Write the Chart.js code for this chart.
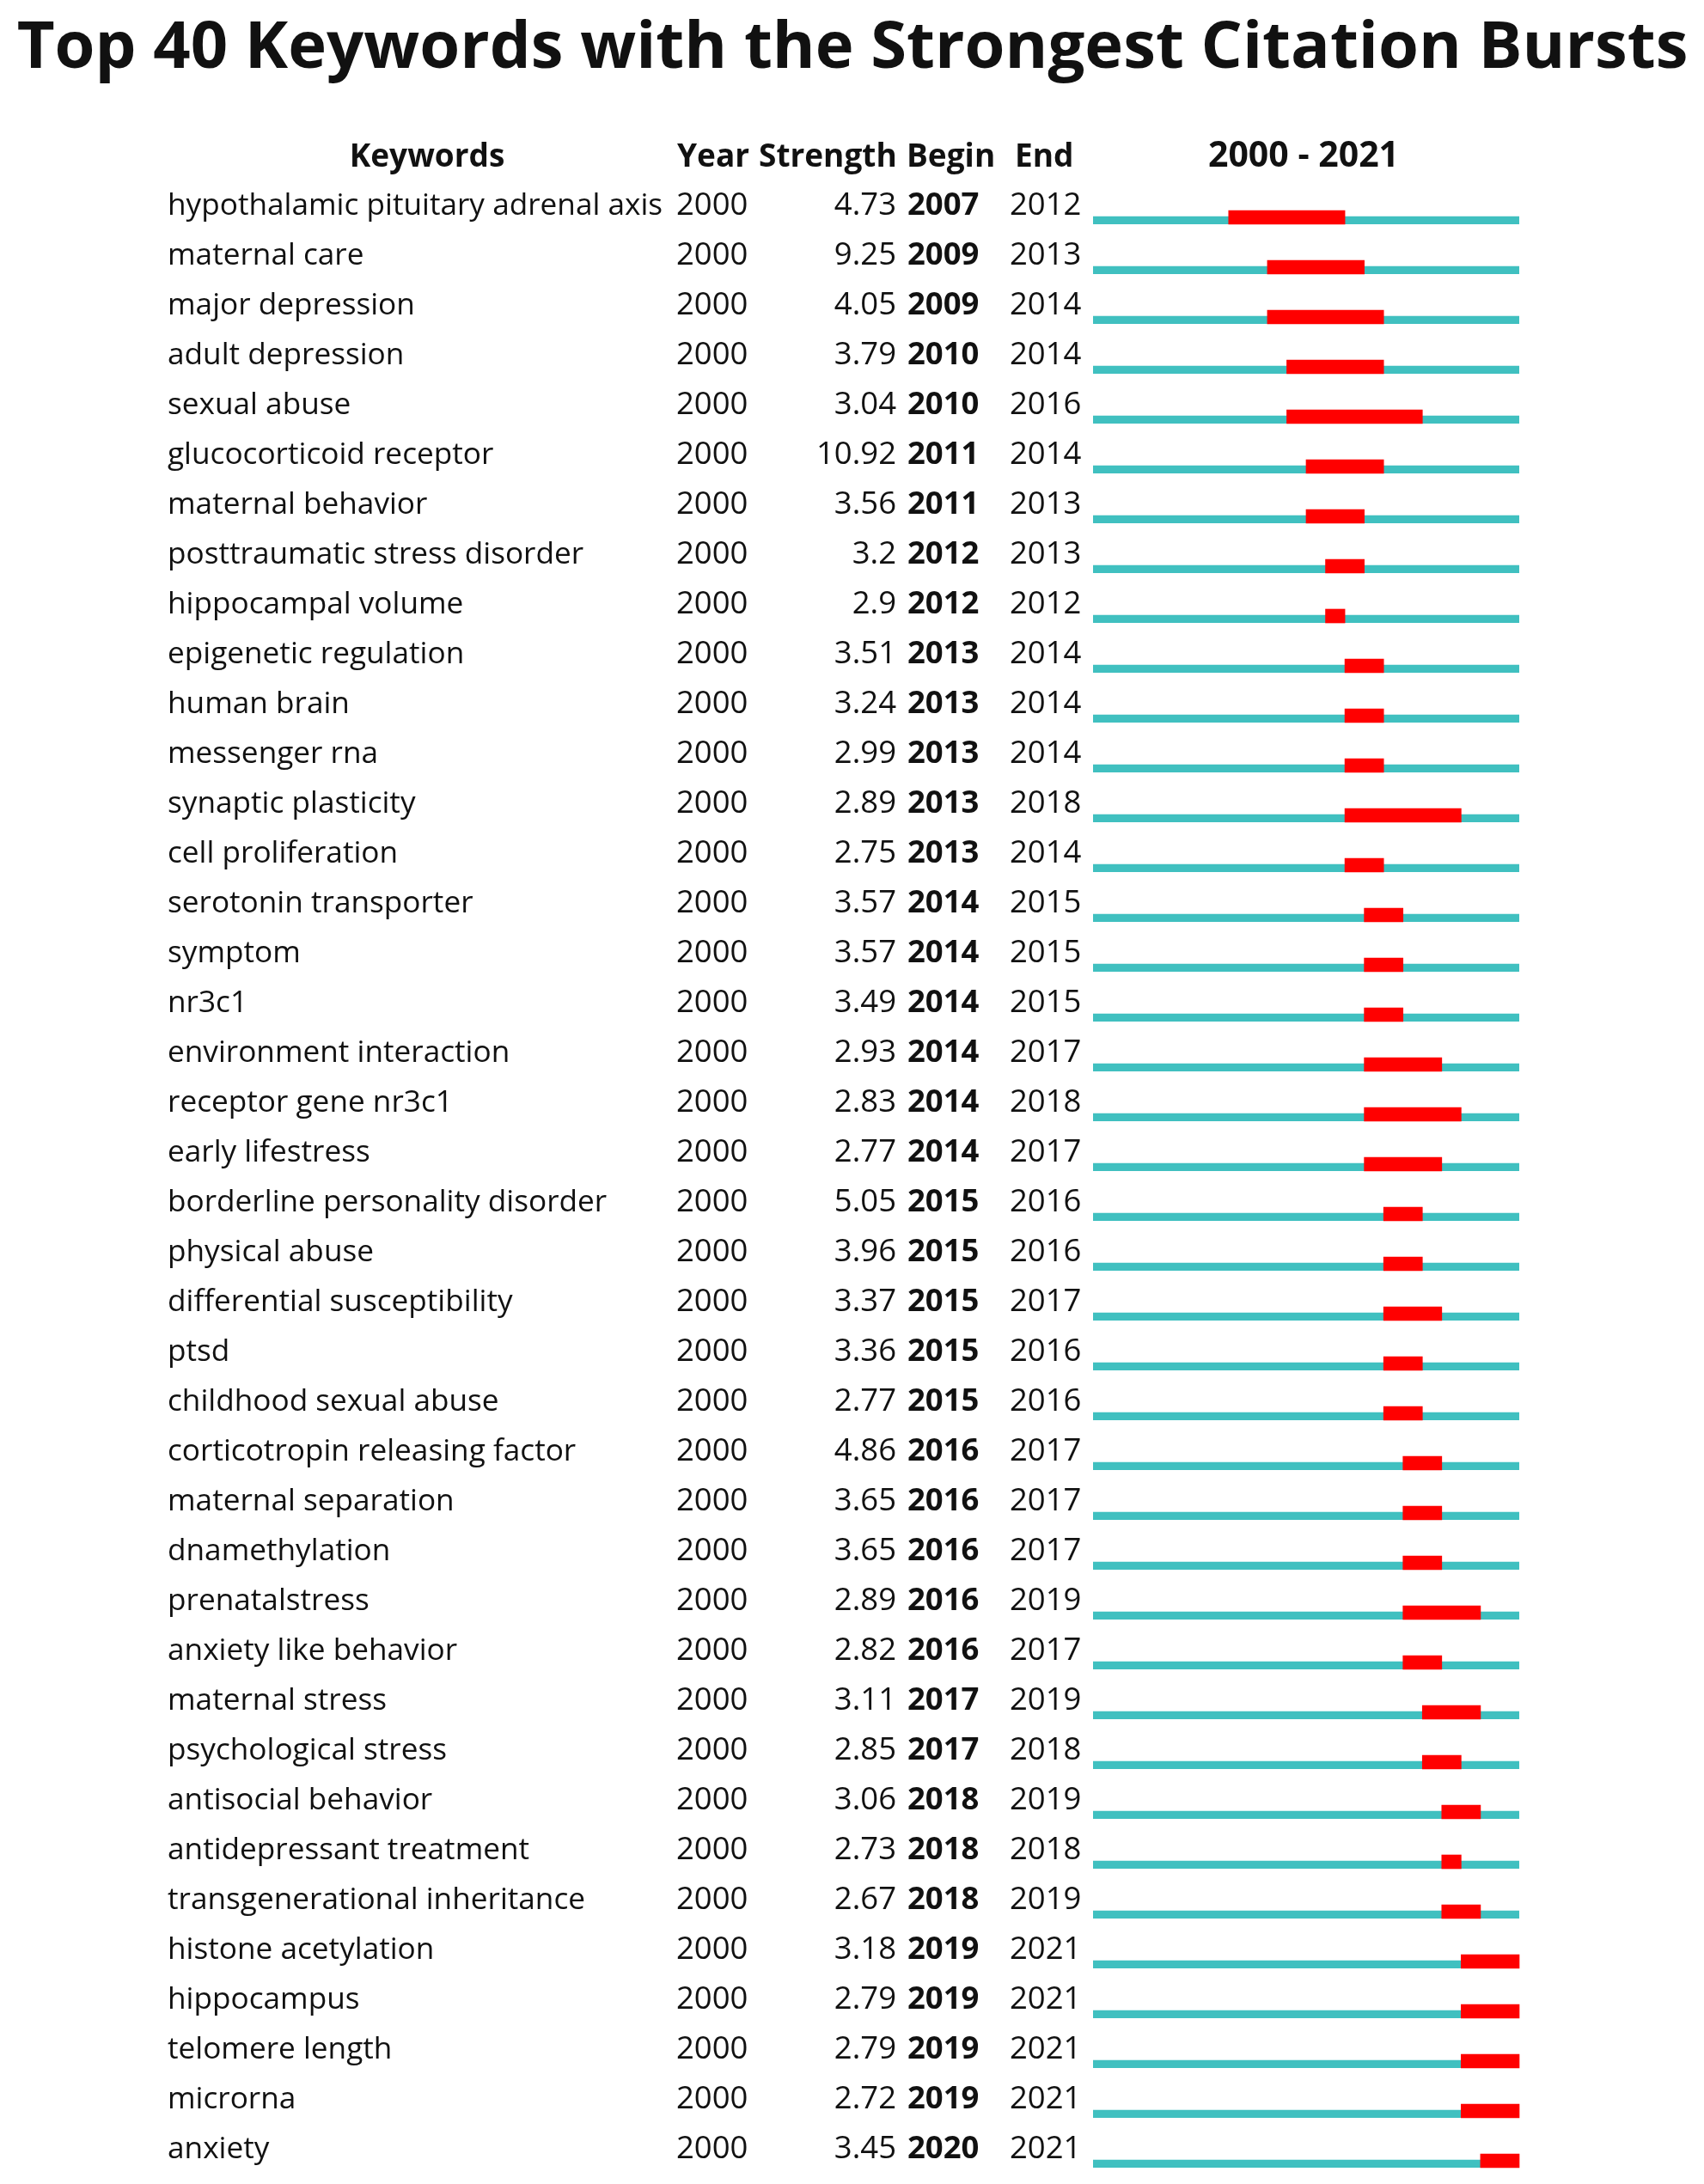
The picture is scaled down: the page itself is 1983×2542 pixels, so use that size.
<!DOCTYPE html>
<html>
<head>
<meta charset="utf-8">
<script src="https://cdn.jsdelivr.net/npm/chart.js@4/dist/chart.umd.min.js"></script>
<style>
  html, body { margin: 0; padding: 0; background: #ffffff; }
  #wrap { width: 1983px; height: 2542px; position: relative; }
</style>
</head>
<body>
<div id="wrap"><canvas id="c"></canvas></div>
<script>
const title = "Top 40 Keywords with the Strongest Citation Bursts";
const headers = ["Keywords", "Year", "Strength", "Begin", "End", "2000 - 2021"];
const rangeStart = 2000;
const rangeEnd = 2021;

const keywords = [
  "hypothalamic pituitary adrenal axis", "maternal care", "major depression", "adult depression",
  "sexual abuse", "glucocorticoid receptor", "maternal behavior", "posttraumatic stress disorder",
  "hippocampal volume", "epigenetic regulation", "human brain", "messenger rna",
  "synaptic plasticity", "cell proliferation", "serotonin transporter", "symptom",
  "nr3c1", "environment interaction", "receptor gene nr3c1", "early lifestress",
  "borderline personality disorder", "physical abuse", "differential susceptibility", "ptsd",
  "childhood sexual abuse", "corticotropin releasing factor", "maternal separation", "dnamethylation",
  "prenatalstress", "anxiety like behavior", "maternal stress", "psychological stress",
  "antisocial behavior", "antidepressant treatment", "transgenerational inheritance", "histone acetylation",
  "hippocampus", "telomere length", "microrna", "anxiety"
];
const years = [
  2000, 2000, 2000, 2000, 2000, 2000, 2000, 2000, 2000, 2000,
  2000, 2000, 2000, 2000, 2000, 2000, 2000, 2000, 2000, 2000,
  2000, 2000, 2000, 2000, 2000, 2000, 2000, 2000, 2000, 2000,
  2000, 2000, 2000, 2000, 2000, 2000, 2000, 2000, 2000, 2000
];
const strengths = [
  "4.73", "9.25", "4.05", "3.79", "3.04", "10.92", "3.56", "3.2", "2.9", "3.51",
  "3.24", "2.99", "2.89", "2.75", "3.57", "3.57", "3.49", "2.93", "2.83", "2.77",
  "5.05", "3.96", "3.37", "3.36", "2.77", "4.86", "3.65", "3.65", "2.89", "2.82",
  "3.11", "2.85", "3.06", "2.73", "2.67", "3.18", "2.79", "2.79", "2.72", "3.45"
];
const begins = [
  2007, 2009, 2009, 2010, 2010, 2011, 2011, 2012, 2012, 2013,
  2013, 2013, 2013, 2013, 2014, 2014, 2014, 2014, 2014, 2014,
  2015, 2015, 2015, 2015, 2015, 2016, 2016, 2016, 2016, 2016,
  2017, 2017, 2018, 2018, 2018, 2019, 2019, 2019, 2019, 2020
];
const ends = [
  2012, 2013, 2014, 2014, 2016, 2014, 2013, 2013, 2012, 2014,
  2014, 2014, 2018, 2014, 2015, 2015, 2015, 2017, 2018, 2017,
  2016, 2016, 2017, 2016, 2016, 2017, 2017, 2017, 2019, 2017,
  2019, 2018, 2019, 2018, 2019, 2021, 2021, 2021, 2021, 2021
];

const TEAL = "#40C0C0";
const RED = "#FF0000";
const INK = "#111111";
const FONT = "'Open Sans', 'Noto Sans', 'DejaVu Sans', sans-serif";

const textPlugin = {
  id: "burstText",
  afterDraw(chart) {
    const ctx = chart.ctx;
    const y = chart.scales.y;
    ctx.save();
    ctx.fillStyle = INK;

    // Title, fitted to the reference width
    let ts = 80;
    ctx.font = "bold " + ts + "px " + FONT;
    const tw = ctx.measureText(title).width;
    ts = ts * 1945 / tw;
    ctx.font = "bold " + ts + "px " + FONT;
    ctx.textAlign = "center";
    ctx.textBaseline = "alphabetic";
    ctx.fillText(title, 992, 79);

    // Header
    ctx.font = "bold 37px " + FONT;
    const hy = 194;
    ctx.textAlign = "center";
    ctx.fillText(headers[0], 497, hy);
    ctx.textAlign = "left";
    ctx.fillText(headers[1], 788, hy);
    ctx.fillText(headers[2], 883, hy);
    ctx.fillText(headers[3], 1055, hy);
    ctx.fillText(headers[4], 1181, hy);
    ctx.textAlign = "center";
    ctx.font = "bold 41px " + FONT;
    ctx.fillText(headers[5], 1517, hy);

    // Rows
    const ks = 35.2;
    const ns = 36.5;
    for (let i = 0; i < keywords.length; i++) {
      const cy = y.getPixelForValue(i) - 3;
      ctx.font = ks + "px " + FONT;
      ctx.textAlign = "left";
      ctx.fillText(keywords[i], 195, cy);
      ctx.font = ns + "px " + FONT;
      ctx.fillText(String(years[i]), 787, cy);
      ctx.textAlign = "right";
      ctx.fillText(strengths[i], 1043, cy);
      ctx.textAlign = "left";
      ctx.font = "bold " + ns + "px " + FONT;
      ctx.fillText(String(begins[i]), 1056, cy);
      ctx.font = ns + "px " + FONT;
      ctx.fillText(String(ends[i]), 1175, cy);
    }
    ctx.restore();
  }
};

new Chart(document.getElementById("c"), {
  type: "bar",
  data: {
    labels: keywords,
    datasets: [
      {
        label: "burst",
        data: begins.map((b, i) => [b, ends[i] + 1]),
        backgroundColor: RED,
        borderWidth: 0,
        barThickness: 16,
        grouped: false,
        clip: false,
        order: 1
      },
      {
        label: "span",
        data: keywords.map(() => [rangeStart, rangeEnd + 1]),
        backgroundColor: TEAL,
        borderColor: "rgba(0,0,0,0)",
        borderWidth: { top: 7, bottom: 0, left: 0, right: 0 },
        borderSkipped: false,
        barThickness: 16,
        grouped: false,
        clip: false,
        order: 2
      }
    ]
  },
  options: {
    indexAxis: "y",
    responsive: true,
    maintainAspectRatio: false,
    devicePixelRatio: 1,
    animation: false,
    layout: { padding: { left: 1272, right: 215, top: 253, bottom: 27 } },
    plugins: { legend: { display: false }, tooltip: { enabled: false }, title: { display: false } },
    scales: {
      x: { type: "linear", min: rangeStart, max: rangeEnd + 1, display: false, grid: { display: false } },
      y: { type: "category", offset: false, display: false, grid: { display: false } }
    }
  },
  plugins: [textPlugin]
});
</script>
</body>
</html>
